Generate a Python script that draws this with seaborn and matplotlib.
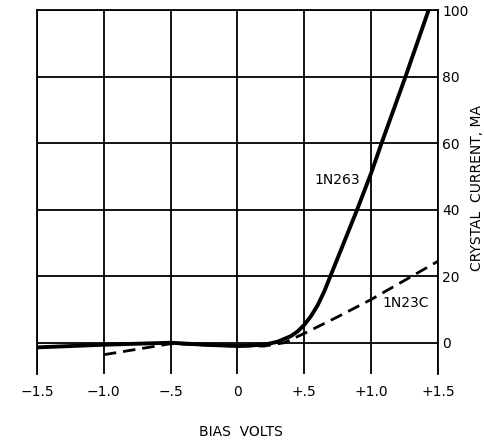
import matplotlib
matplotlib.use("Agg")
import matplotlib.pyplot as plt
import seaborn as sns
import pandas as pd

# 1N263 (solid)
v_1n263 = [-1.5, -1.0, -0.5, -0.25, 0.0, 0.2, 0.3, 0.4, 0.45, 0.5, 0.55, 0.6, 0.65, 0.69, 0.8, 0.895, 1.0, 1.078, 1.257, 1.43]
i_1n263 = [-1.4, -0.6, 0.0, -0.6, -1.0, -0.6, 0.3, 2.0, 3.4, 5.4, 8.0, 11.3, 15.5, 19.5, 30.5, 40.0, 51.0, 60.0, 80.0, 100.0]
# 1N23C (dashed)
v_1n23c = [-1.0, -0.5, 0.0, 0.2, 0.35, 0.5, 0.75, 1.0, 1.305, 1.5]
i_1n23c = [-3.6, -0.3, -1.0, -1.0, 0.0, 2.8, 7.8, 13.0, 20.0, 24.5]

x_ticks = [-1.5, -1.0, -0.5, 0.0, 0.5, 1.0, 1.5]
x_labels = ["\u22121.5", "\u22121.0", "\u2212.5", "0", "+.5", "+1.0", "+1.5"]
y_ticks = [0, 20, 40, 60, 80, 100]
y_labels = ["0", "20", "40", "60", "80", "100"]

sns.set_style("white")
plt.rcParams["font.family"] = ["DejaVu Sans"]
plt.rcParams["text.color"] = "black"
plt.rcParams["xtick.color"] = "black"
plt.rcParams["ytick.color"] = "black"
plt.rcParams["xtick.labelcolor"] = "black"
plt.rcParams["ytick.labelcolor"] = "black"

fig = plt.figure(figsize=(4.85, 4.41), dpi=100)
ax = fig.add_axes([37/485, 1 - 374/441, (438 - 37)/485, (374 - 10)/441])

df1 = pd.DataFrame({"v": v_1n263, "i": i_1n263})
df2 = pd.DataFrame({"v": v_1n23c, "i": i_1n23c})

# grid
for xv in x_ticks:
    ax.axvline(xv, color="black", lw=1.3, zorder=1)
for yv in y_ticks:
    ax.axhline(yv, color="black", lw=1.3, zorder=1)

sns.lineplot(data=df1, x="v", y="i", ax=ax, color="black", lw=2.8, zorder=3, sort=False)
sns.lineplot(data=df2, x="v", y="i", ax=ax, color="black", lw=2.0, zorder=3, sort=False,
             linestyle=(0, (4.5, 2.5)))

ax.set_xlim(-1.5, 1.5)
ax.set_ylim(-9.4, 100)
ax.set_xticks(x_ticks)
ax.set_xticklabels(x_labels, fontsize=10, color="black")
ax.set_yticks(y_ticks)
ax.set_yticklabels(y_labels, fontsize=10, color="black")
ax.yaxis.tick_right()
ax.tick_params(axis="both", length=0)
ax.tick_params(axis="x", pad=8)
ax.tick_params(axis="y", pad=3)

for s in ["top", "left", "right"]:
    ax.spines[s].set_visible(True)
    ax.spines[s].set_color("black")
    ax.spines[s].set_linewidth(1.3)
ax.spines["bottom"].set_visible(False)

ax.set_xlabel("")
ax.set_ylabel("")
fig.text(241/485, 1 - 432/441, "BIAS  VOLTS", fontsize=10, ha="center", va="center",
         color="black")
fig.text(477/485, 1 - 188/441, "CRYSTAL  CURRENT, MA", fontsize=10, ha="center", va="center",
         rotation=90, color="black")

ax.text(0.745, 49, "1N263", fontsize=10, ha="center", va="center", color="black",
        bbox=dict(facecolor="white", edgecolor="none", pad=0.5), zorder=4)
ax.text(1.256, 12, "1N23C", fontsize=10, ha="center", va="center", color="black",
        bbox=dict(facecolor="white", edgecolor="none", pad=0.5), zorder=4)

fig.savefig("out.png", dpi=100)
